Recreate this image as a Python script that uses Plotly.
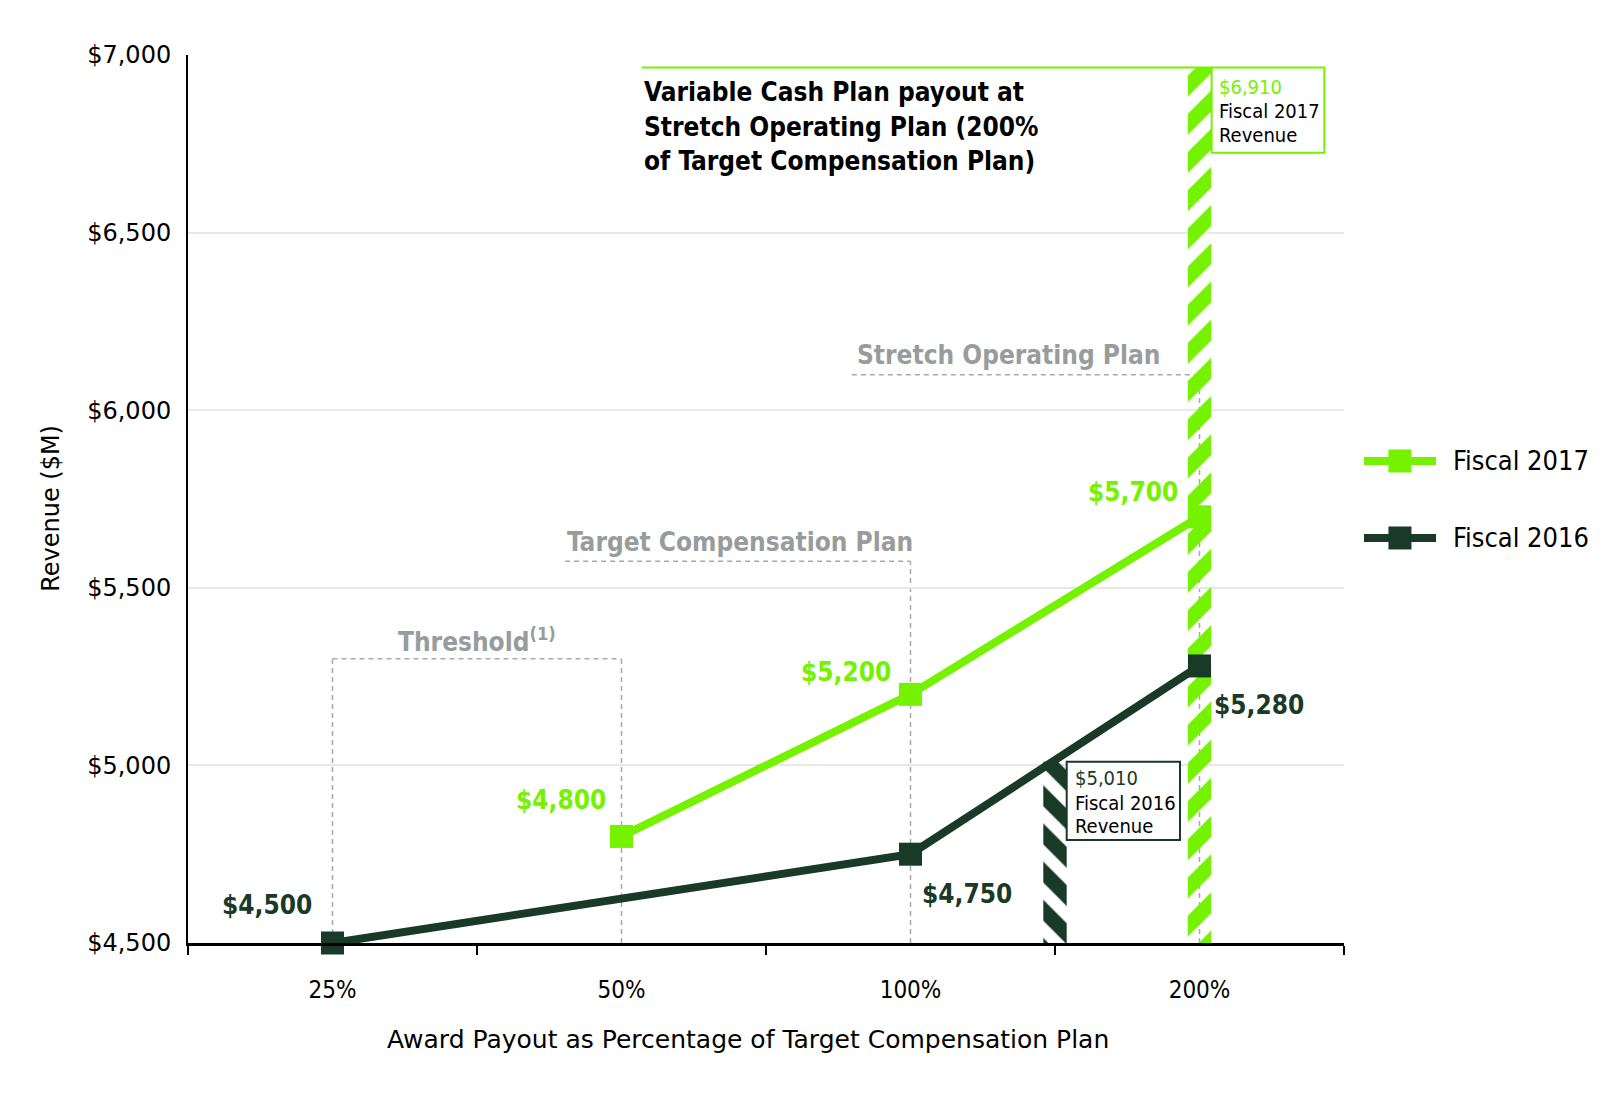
import plotly.graph_objects as go

# ---------------- data ----------------
categories = ["25%", "50%", "100%", "200%"]
y_ticks = [4500, 5000, 5500, 6000, 6500, 7000]
y_tick_labels = ["$4,500", "$5,000", "$5,500", "$6,000", "$6,500", "$7,000"]

fy2017_cats = ["50%", "100%", "200%"]
fy2017_vals = [4800, 5200, 5700]
fy2016_cats = ["25%", "100%", "200%"]
fy2016_vals = [4500, 4750, 5280]

fy2016_revenue = 5010          # hatched bar between 100% and 200%
fy2016_revenue_pos = 2.5
fy2017_revenue = 6910          # hatched bar at 200%
fy2017_bar_top = 6965          # bar drawn up to the callout line
threshold_level = 5300
target_level = 5575
stretch_level = 6100

GREEN = "#74F200"
DARK = "#183A26"
GRAY_TXT = "#979C9C"
GRAY_LINE = "#A9A9A9"
FONT = "DejaVu Sans"
FONT_C = "DejaVu Sans Condensed"

idx = {c: i for i, c in enumerate(categories)}
x17 = [idx[c] for c in fy2017_cats]
x16 = [idx[c] for c in fy2016_cats]

fig = go.Figure()

# hatched revenue bars
fig.add_trace(go.Bar(
    x=[fy2016_revenue_pos], y=[fy2016_revenue], width=0.081,
    marker=dict(color="rgba(0,0,0,0)", line=dict(width=0),
                pattern=dict(shape="\\", fgcolor=DARK, bgcolor="rgba(0,0,0,0)",
                             size=27, solidity=0.55, fillmode="overlay", fgopacity=1)),
    showlegend=False, hoverinfo="skip"))
fig.add_trace(go.Bar(
    x=[idx["200%"]], y=[fy2017_bar_top], width=0.081,
    marker=dict(color="rgba(0,0,0,0)", line=dict(width=0),
                pattern=dict(shape="/", fgcolor=GREEN, bgcolor="rgba(0,0,0,0)",
                             size=27, solidity=0.55, fillmode="overlay", fgopacity=1)),
    showlegend=False, hoverinfo="skip"))

# series lines
fig.add_trace(go.Scatter(
    x=x17, y=fy2017_vals, mode="lines+markers", name="Fiscal 2017",
    line=dict(color=GREEN, width=8),
    marker=dict(symbol="square", size=23, color=GREEN),
    cliponaxis=False, showlegend=False))
fig.add_trace(go.Scatter(
    x=x16, y=fy2016_vals, mode="lines+markers", name="Fiscal 2016",
    line=dict(color=DARK, width=8),
    marker=dict(symbol="square", size=23, color=DARK),
    cliponaxis=False, showlegend=False))

shapes = []
dash = dict(color=GRAY_LINE, width=1.5, dash="5px,4px")
# threshold box
shapes += [
    dict(type="line", x0=0, x1=0, y0=4500, y1=threshold_level, line=dash, layer="below"),
    dict(type="line", x0=0, x1=1, y0=threshold_level, y1=threshold_level, line=dash, layer="below"),
    dict(type="line", x0=1, x1=1, y0=4500, y1=threshold_level, line=dash, layer="below"),
    # target compensation plan
    dict(type="line", x0=0.805, x1=2, y0=target_level, y1=target_level, line=dash, layer="below"),
    dict(type="line", x0=2, x1=2, y0=4500, y1=target_level, line=dash, layer="below"),
    # stretch operating plan
    dict(type="line", x0=1.797, x1=3, y0=stretch_level, y1=stretch_level, line=dash, layer="below"),
    dict(type="line", x0=3, x1=3, y0=4500, y1=stretch_level, line=dash, layer="below"),
]
# callout line + boxes
shapes += [
    dict(type="line", x0=1.07, x1=3.042, y0=fy2017_bar_top, y1=fy2017_bar_top,
         line=dict(color=GREEN, width=2), layer="above"),
    dict(type="rect", x0=3.042, x1=3.432, y0=6725, y1=fy2017_bar_top,
         line=dict(color=GREEN, width=2), fillcolor="white", layer="above"),
    dict(type="rect", x0=2.5405, x1=2.9325, y0=4790, y1=fy2016_revenue,
         line=dict(color=DARK, width=2), fillcolor="white", layer="above"),
]
# custom legend (paper coordinates)
for yy, col in [(0.5428, GREEN), (0.4561, DARK)]:
    shapes.append(dict(type="line", xref="paper", yref="paper", x0=1.0173, x1=1.0796,
                       y0=yy, y1=yy, line=dict(color=col, width=8)))
    shapes.append(dict(type="rect", xref="paper", yref="paper",
                       xsizemode="pixel", ysizemode="pixel",
                       xanchor=1.0484, yanchor=yy, x0=-11.5, x1=11.5, y0=-11.5, y1=11.5,
                       line=dict(width=0), fillcolor=col))

ann = []
def A(**kw):
    d = dict(showarrow=False)
    d.update(kw)
    ann.append(d)

# value labels
vfont17 = dict(family=FONT_C, size=26, color=GREEN, weight="bold")
vfont16 = dict(family=FONT_C, size=26, color=DARK, weight="bold")
shifts17 = [(-61, 36), (-65, 22), (-67, 25)]
shifts16 = [(-66, 38), (56, -40), (59, -39)]
for x, v, (dx, dy) in zip(x17, fy2017_vals, shifts17):
    A(x=x, y=v, text=f"${v:,}", font=vfont17, xshift=dx, yshift=dy)
for x, v, (dx, dy) in zip(x16, fy2016_vals, shifts16):
    A(x=x, y=v, text=f"${v:,}", font=vfont16, xshift=dx, yshift=dy)

# gray plan labels
gfont = dict(family=FONT_C, size=26, color=GRAY_TXT, weight="bold")
A(x=0.5, y=5352, text="Threshold<sup>(1)</sup>", font=gfont, xanchor="center", yanchor="middle")
A(x=0.805, y=5630, text="Target Compensation Plan", font=gfont, xanchor="left", yanchor="middle")
A(x=1.808, y=6155, text="Stretch Operating Plan", font=gfont, xanchor="left", yanchor="middle")

# callout text
cfont = dict(family=FONT_C, size=26, color="black", weight="bold")
for t, yy in [("Variable Cash Plan payout at", 6897),
              ("Stretch Operating Plan (200%", 6798),
              ("of Target Compensation Plan)", 6702)]:
    A(x=1.07, y=yy, text=t, font=cfont, xanchor="left", yanchor="middle")

# boxes text
bfont = dict(family=FONT_C, size=20, color="black")
bx17, bx16 = 3.0605, 2.561
A(x=bx17, y=6911, text=f"${fy2017_revenue:,}", font=dict(family=FONT_C, size=20, color=GREEN),
  xanchor="left", yanchor="middle")
A(x=bx17, y=6841, text="Fiscal 2017", font=bfont, xanchor="left", yanchor="middle")
A(x=bx17, y=6775, text="Revenue", font=bfont, xanchor="left", yanchor="middle")
A(x=bx16, y=4965, text=f"${fy2016_revenue:,}", font=dict(family=FONT_C, size=20, color=DARK),
  xanchor="left", yanchor="middle")
A(x=bx16, y=4895, text="Fiscal 2016", font=bfont, xanchor="left", yanchor="middle")
A(x=bx16, y=4830, text="Revenue", font=bfont, xanchor="left", yanchor="middle")

# legend text
for yy, name in [(0.5428, "Fiscal 2017"), (0.4561, "Fiscal 2016")]:
    A(xref="paper", yref="paper", x=1.0926, y=yy, text=name, xanchor="left", yanchor="middle",
      font=dict(family=FONT_C, size=27, color="black"))

# axis titles
A(xref="paper", yref="paper", x=0.4844, y=-0.1092, text="Award Payout as Percentage of Target Compensation Plan",
  xanchor="center", yanchor="middle", font=dict(family=FONT, size=25, color="black"))
A(xref="paper", yref="paper", x=-0.1186, y=0.4899, text="Revenue ($M)", textangle=-90,
  xanchor="center", yanchor="middle", font=dict(family=FONT, size=24, color="black"))

fig.update_layout(
    width=1608, height=1077,
    margin=dict(l=180, r=272, t=47, b=142),
    plot_bgcolor="white", paper_bgcolor="white",
    barmode="overlay", showlegend=False,
    shapes=shapes, annotations=ann,
    xaxis=dict(range=[-0.5, 3.5], tickvals=list(range(len(categories))), ticktext=categories,
               ticks="", showline=True, linecolor="black", linewidth=2.5,
               showgrid=False, zeroline=False, ticklabelstandoff=23,
               tickfont=dict(family=FONT_C, size=24, color="black"),
               minor=dict(tick0=0.5, dtick=1, ticks="outside", ticklen=9,
                          tickcolor="black", tickwidth=2, showgrid=False)),
    yaxis=dict(range=[4500, 7000], tickvals=y_ticks, ticktext=y_tick_labels,
               ticks="", showline=True, linecolor="black", linewidth=2,
               showgrid=True, gridcolor="#E8E8E8", gridwidth=2, zeroline=False,
               ticklabelstandoff=10,
               tickfont=dict(family=FONT, size=24, color="black")),
)

fig.write_html("out.html")
